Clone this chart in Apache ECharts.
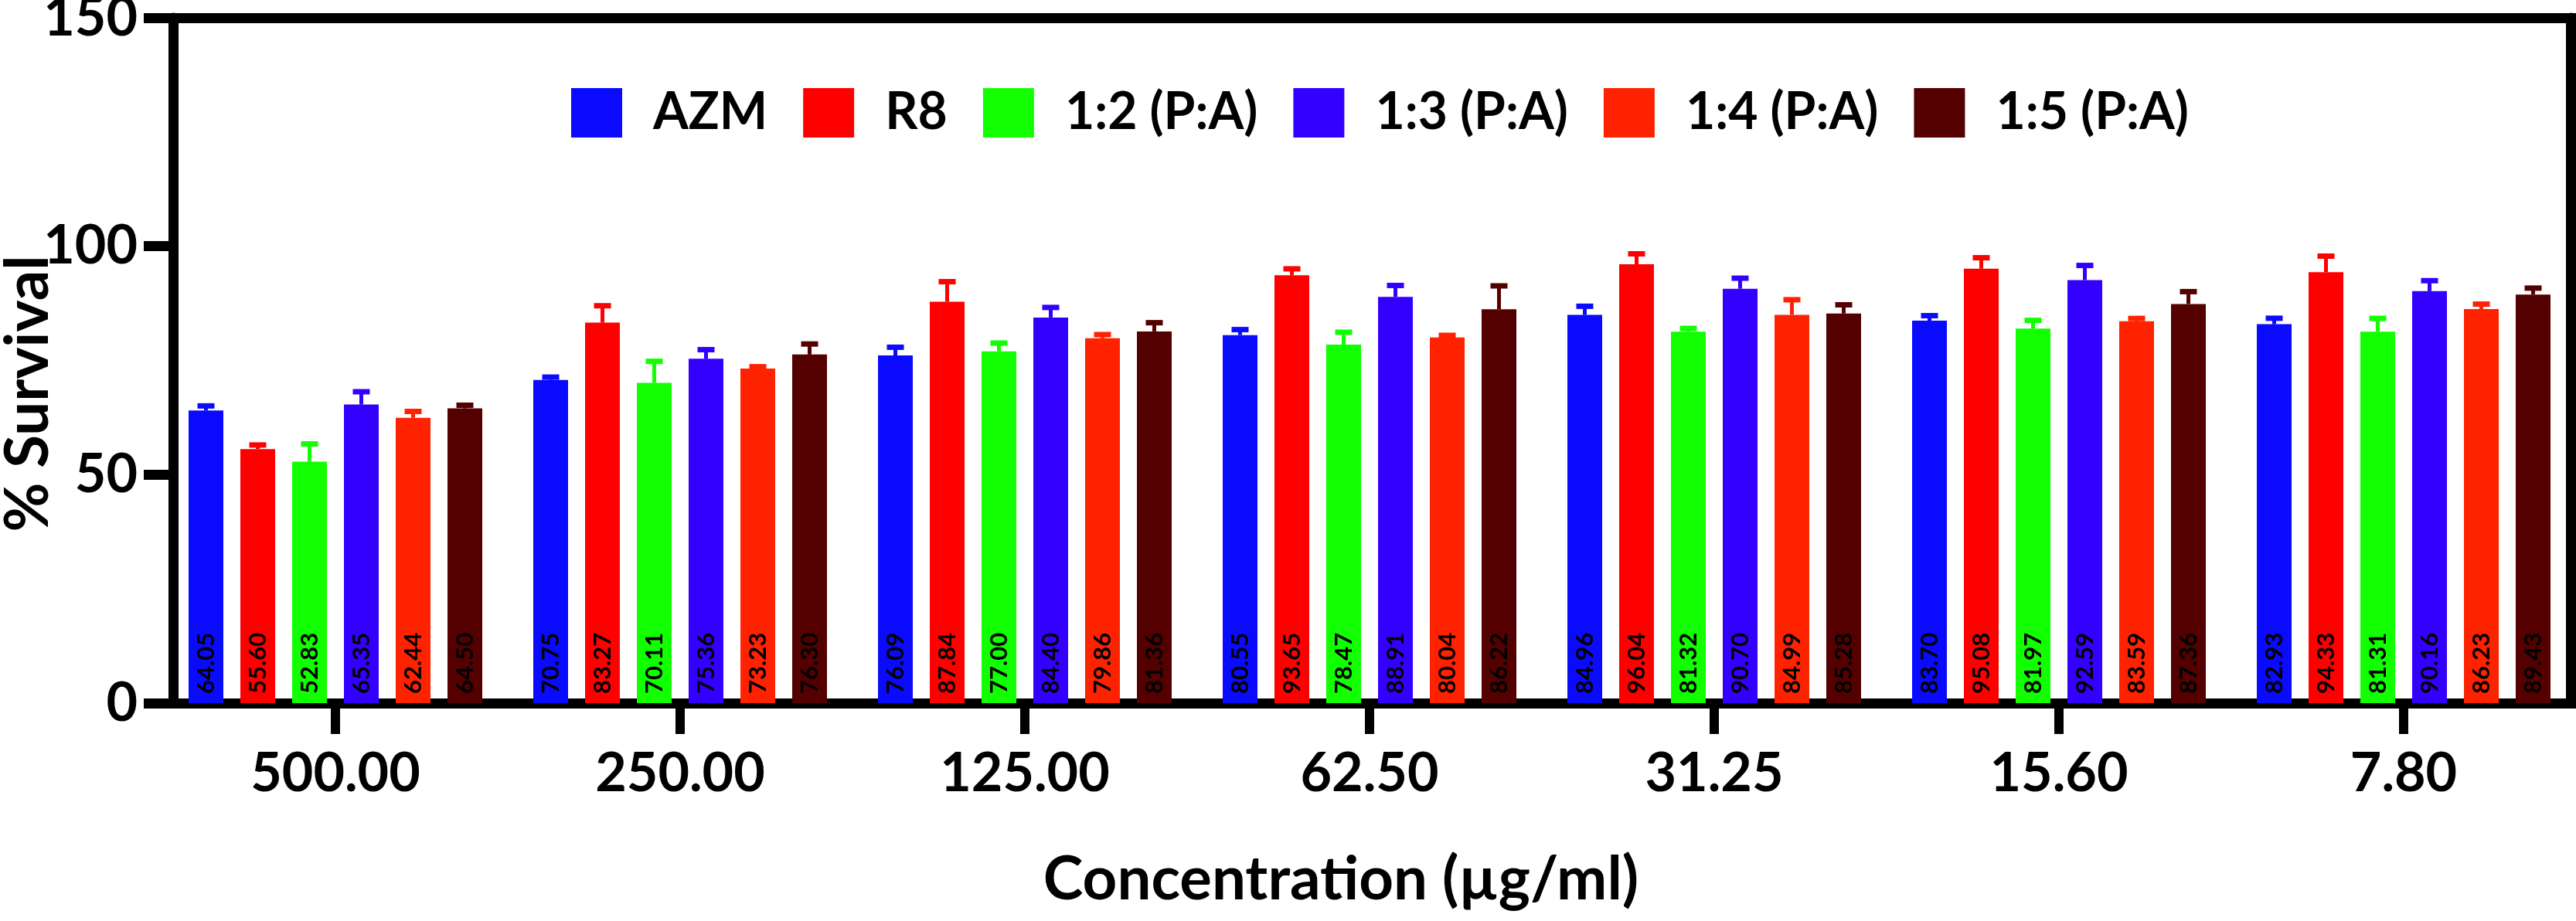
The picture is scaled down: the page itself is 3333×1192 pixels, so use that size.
<!DOCTYPE html>
<html>
<head>
<meta charset="utf-8">
<script src="https://cdn.jsdelivr.net/npm/echarts@6/dist/echarts.min.js"></script>
<style>
html,body{margin:0;padding:0;background:#fff;}
#chart{width:3333px;height:1192px;}
</style>
</head>
<body>
<div id="chart"></div>
<script>
// ---- data ----
const categories = ['500.00', '250.00', '125.00', '62.50', '31.25', '15.60', '7.80'];
const seriesNames = ['AZM', 'R8', '1:2 (P:A)', '1:3 (P:A)', '1:4 (P:A)', '1:5 (P:A)'];
const AZM  = [64.05, 70.75, 76.09, 80.55, 84.96, 83.70, 82.93];
const R8   = [55.60, 83.27, 87.84, 93.65, 96.04, 95.08, 94.33];
const PA12 = [52.83, 70.11, 77.00, 78.47, 81.32, 81.97, 81.31];
const PA13 = [65.35, 75.36, 84.40, 88.91, 90.70, 92.59, 90.16];
const PA14 = [62.44, 73.23, 79.86, 80.04, 84.99, 83.59, 86.23];
const PA15 = [64.50, 76.30, 81.36, 86.22, 85.28, 87.36, 89.43];
const AZM_err  = [1.0, 0.6, 1.8, 1.2, 1.9, 1.1, 1.3];
const R8_err   = [0.9, 3.7, 4.4, 1.4, 2.3, 2.4, 3.5];
const PA12_err = [3.9, 4.7, 1.8, 2.7, 0.7, 1.8, 2.9];
const PA13_err = [2.8, 2.0, 2.2, 2.5, 2.3, 3.2, 2.3];
const PA14_err = [1.4, 0.4, 0.8, 0.45, 3.3, 0.6, 1.1];
const PA15_err = [0.7, 2.3, 1.9, 5.1, 1.9, 2.7, 1.4];
const yTicks = [0, 50, 100, 150];

// ---- styling ----
const values = [AZM, R8, PA12, PA13, PA14, PA15];
const errors = [AZM_err, R8_err, PA12_err, PA13_err, PA14_err, PA15_err];
const colors = ['#0a0aff', '#ff0000', '#11ff00', '#3300ff', '#ff2200', '#550000'];
const BAR_W = 45, BAR_GAP = 22;
const FONT = 'Lato, "Open Sans", sans-serif';

const series = [];
values.forEach((vals, i) => {
  series.push({
    name: seriesNames[i],
    type: 'bar',
    data: vals,
    barWidth: BAR_W,
    barGap: (BAR_GAP / BAR_W * 100) + '%',
    itemStyle: { color: colors[i] },
    z: 2,
    label: {
      show: true,
      position: 'insideBottom',
      rotate: 90,
      align: 'left',
      verticalAlign: 'middle',
      distance: 12,
      color: '#000',
      fontFamily: '"Liberation Sans Narrow", ' + FONT,
      fontWeight: 'bold',
      fontSize: 31,
      formatter: p => Number(p.value).toFixed(2)
    }
  });
});
values.forEach((vals, i) => {
  const offset = (i - (values.length - 1) / 2) * (BAR_W + BAR_GAP);
  series.push({
    name: seriesNames[i] + ' err',
    type: 'custom',
    z: 3,
    data: vals.map((v, k) => [k, v, errors[i][k]]),
    renderItem: (params, api) => {
      const base = api.coord([api.value(0), api.value(1)]);
      const top = api.coord([api.value(0), api.value(1) + api.value(2)]);
      const xc = base[0] + offset;
      return {
        type: 'group',
        children: [
          { type: 'line', shape: { x1: xc, y1: base[1], x2: xc, y2: top[1] },
            style: { stroke: colors[i], lineWidth: 5 } },
          { type: 'rect', shape: { x: xc - 11, y: top[1] - 3.5, width: 22, height: 7 },
            style: { fill: colors[i] } }
        ]
      };
    }
  });
});

const chart = echarts.init(document.getElementById('chart'), null, { renderer: 'canvas' });
chart.setOption({
  animation: false,
  backgroundColor: '#fff',
  textStyle: { fontFamily: FONT },
  legend: {
    data: seriesNames,
    left: 734,
    top: 108,
    itemWidth: 66,
    itemHeight: 64,
    itemGap: 46,
    icon: 'rect',
    textStyle: { fontFamily: FONT, fontWeight: 'bold', fontSize: 66, color: '#000', padding: [0, 0, 0, 35] }
  },
  grid: { left: 211, right: 0, top: 23, bottom: 282, containLabel: false, outerBoundsMode: 'none' },
  xAxis: [{
    type: 'category',
    data: categories,
    position: 'bottom',
    axisLine: { show: true, onZero: false, lineStyle: { color: '#000', width: 13 } },
    axisTick: { show: true, alignWithLabel: true, length: 40, lineStyle: { color: '#000', width: 12 } },
    axisLabel: { fontFamily: FONT, fontWeight: 'bold', fontSize: 70, color: '#000', margin: 56 },
    name: 'Concentration (µg/ml)',
    nameLocation: 'middle',
    nameGap: 190,
    nameMoveOverlap: false,
    nameTextStyle: { fontFamily: FONT, fontWeight: 'bold', fontSize: 78, color: '#000', padding: [0, 74, 0, 0] }
  }, {
    type: 'category',
    data: categories,
    position: 'top',
    axisLine: { show: true, onZero: false, lineStyle: { color: '#000', width: 13 } },
    axisTick: { show: false },
    axisLabel: { show: false }
  }],
  yAxis: [{
    type: 'value',
    min: yTicks[0],
    max: yTicks[yTicks.length - 1],
    interval: yTicks[1] - yTicks[0],
    offset: -13,
    splitLine: { show: false },
    axisLine: { show: true, onZero: false, lineStyle: { color: '#000', width: 13 } },
    axisTick: { show: true, length: 38, lineStyle: { color: '#000', width: 13 } },
    axisLabel: { fontFamily: FONT, fontWeight: 'bold', fontSize: 70, color: '#000', margin: 46 },
    name: '% Survival',
    nameLocation: 'middle',
    nameGap: 148,
    nameMoveOverlap: false,
    nameTextStyle: { fontFamily: FONT, fontWeight: 'bold', fontSize: 78, color: '#000', padding: [0, 86, 0, 0] }
  }, {
    type: 'value',
    position: 'right',
    min: yTicks[0],
    max: yTicks[yTicks.length - 1],
    interval: yTicks[1] - yTicks[0],
    offset: -7,
    splitLine: { show: false },
    axisLine: { show: true, onZero: false, lineStyle: { color: '#000', width: 13 } },
    axisTick: { show: false },
    axisLabel: { show: false }
  }],
  series: series
});
</script>
</body>
</html>
